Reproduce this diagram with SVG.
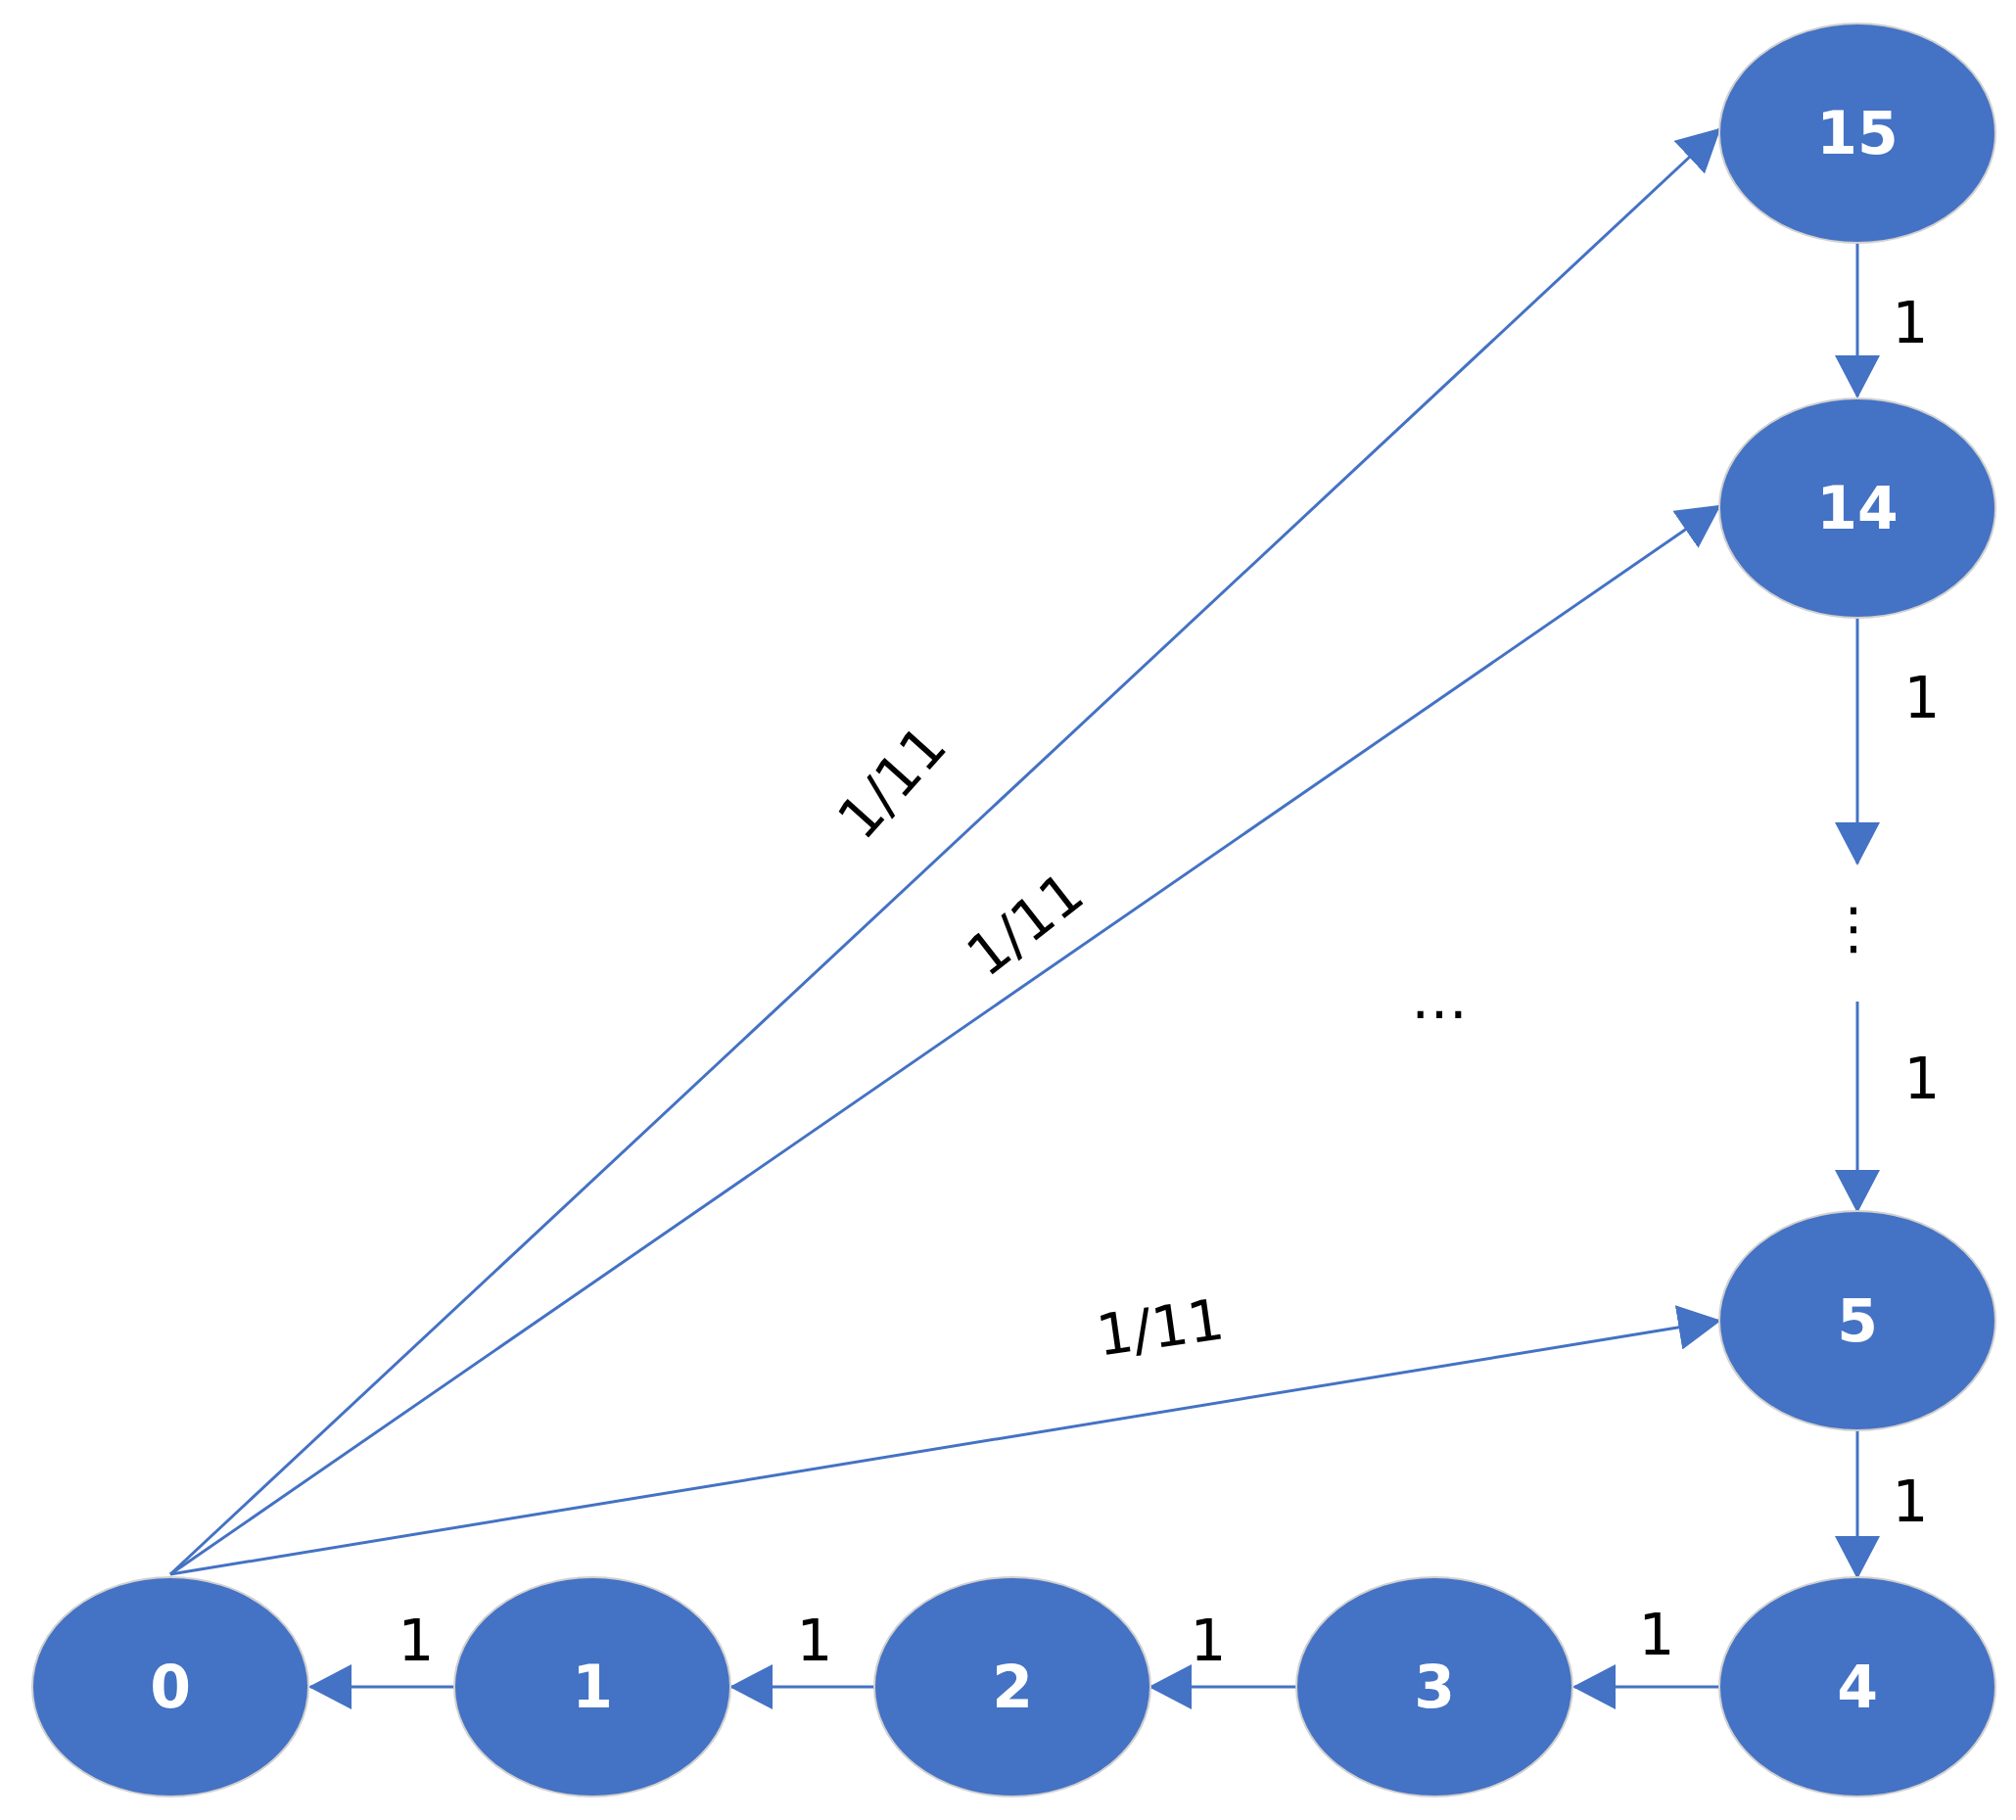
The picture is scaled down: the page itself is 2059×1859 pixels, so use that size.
<svg xmlns="http://www.w3.org/2000/svg" width="2059" height="1859" viewBox="0 0 2059 1859">
<style>
.n{fill:#4472C4;stroke:#d0d0d0;stroke-width:2}
.nt{fill:#fff;font-family:"DejaVu Sans",sans-serif;font-weight:bold;font-size:60px;text-anchor:middle;dominant-baseline:central}
.e{stroke:#4472C4;stroke-width:3;fill:none;marker-end:url(#a)}
.l{fill:#000;font-family:"DejaVu Sans",sans-serif;font-size:58px;text-anchor:middle}
</style>
<defs><marker id="a" markerUnits="userSpaceOnUse" markerWidth="44" markerHeight="46" refX="42" refY="23" orient="auto"><path d="M0,0 L44,23 L0,46 Z" fill="#4472C4"/></marker></defs>
<rect width="2059" height="1859" fill="#fff"/>
<g id="edges">
<line class="e" x1="174" y1="1608" x2="1756" y2="132"/>
<line class="e" x1="174" y1="1608" x2="1756" y2="517"/>
<line class="e" x1="174" y1="1608" x2="1756" y2="1349"/>
<line class="e" x1="1897" y1="248" x2="1897" y2="405"/>
<line class="e" x1="1897" y1="631" x2="1897" y2="882"/>
<line class="e" x1="1897" y1="1023" x2="1897" y2="1237"/>
<line class="e" x1="1897" y1="1461" x2="1897" y2="1611"/>
<line class="e" x1="1756" y1="1723" x2="1608" y2="1723"/>
<line class="e" x1="1324" y1="1723" x2="1175" y2="1723"/>
<line class="e" x1="894" y1="1723" x2="747" y2="1723"/>
<line class="e" x1="465" y1="1723" x2="317" y2="1723"/>
<text class="l" x="1951" y="350">1</text>
<text class="l" x="1963" y="733">1</text>
<text class="l" x="1963" y="1122">1</text>
<text class="l" x="1951" y="1554">1</text>
<text class="l" x="1692" y="1690">1</text>
<text class="l" x="1234" y="1696">1</text>
<text class="l" x="832" y="1696">1</text>
<text class="l" x="425" y="1696">1</text>
<text class="l" transform="translate(911,799) rotate(-48)" y="20">1/11</text>
<text class="l" transform="translate(1047,944) rotate(-38)" y="20">1/11</text>
<text class="l" transform="translate(1185,1356) rotate(-8)" y="20">1/11</text>
<text class="l" x="1893" y="968" font-size="40">⋮</text>
<text class="l" x="1470" y="1040" font-size="40">…</text>
</g>
<g id="n15"><ellipse class="n" cx="1897" cy="136" rx="141" ry="112"/><text class="nt" x="1897" y="136">15</text></g>
<g id="n14"><ellipse class="n" cx="1897" cy="519" rx="141" ry="112"/><text class="nt" x="1897" y="519">14</text></g>
<g id="n5"><ellipse class="n" cx="1897" cy="1349" rx="141" ry="112"/><text class="nt" x="1897" y="1349">5</text></g>
<g id="n4"><ellipse class="n" cx="1897" cy="1723" rx="141" ry="112"/><text class="nt" x="1897" y="1723">4</text></g>
<g id="n3"><ellipse class="n" cx="1465" cy="1723" rx="141" ry="112"/><text class="nt" x="1465" y="1723">3</text></g>
<g id="n2"><ellipse class="n" cx="1034" cy="1723" rx="141" ry="112"/><text class="nt" x="1034" y="1723">2</text></g>
<g id="n1"><ellipse class="n" cx="605" cy="1723" rx="141" ry="112"/><text class="nt" x="605" y="1723">1</text></g>
<g id="n0"><ellipse class="n" cx="174" cy="1723" rx="141" ry="112"/><text class="nt" x="174" y="1723">0</text></g>
</svg>
